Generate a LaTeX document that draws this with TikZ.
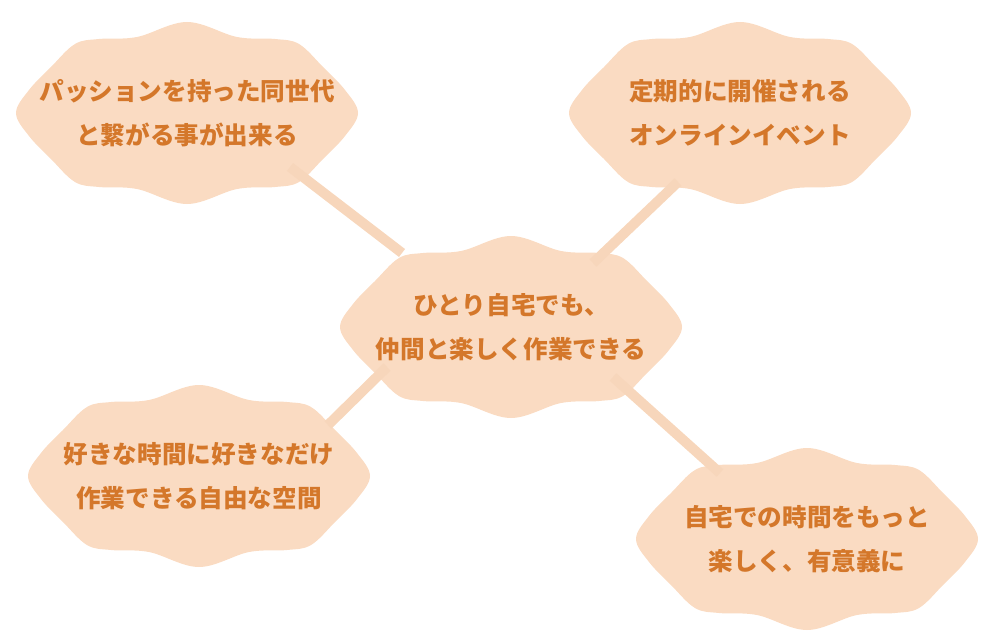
\documentclass[tikz,border=0pt]{standalone}
\usepackage{fontspec}
\setmainfont{Noto Sans CJK JP}
\usetikzlibrary{calc, backgrounds}

\definecolor{cloudfill}{HTML}{FADBC2}
\definecolor{linkcol}{HTML}{F7D6BB}
\definecolor{textcol}{HTML}{D4772A}

\begin{document}
\begin{tikzpicture}[x=0.5pt, y=0.5pt,
    bubble/.style={align=center, text=textcol, font=\fontsize{12.3}{21.75}\selectfont\bfseries},
    link/.style={line width=5pt, linkcol},
    cloud/.style={fill=cloudfill, yshift=1.5pt}]

        % page of the same size as the reference
        \useasboundingbox (0,0) rectangle (1000,639);

        % the texts, centre first
        \node[bubble] (hub) at (511,312) {ひとり自宅でも、\\仲間と楽しく作業できる};
        \node[bubble] (peers) at (187,526) {パッションを持った同世代\\と繋がる事が出来る};
        \node[bubble] (events) at (740,526) {定期的に開催される\\オンラインイベント};
        \node[bubble] (space) at (199,163) {好きな時間に好きなだけ\\作業できる自由な空間};
        \node[bubble] (home) at (807,100) {自宅での時間をもっと\\楽しく、有意義に};

        % wavy clouds behind every text
        \begin{scope}[on background layer]
        \foreach \n in {hub, peers, events, space, home}
                \fill[cloud, shift={(\n)}] plot[smooth cycle, tension=0.6] coordinates {
                        (171,0) (158,23) (136,46) (112,69) (88,74) (50,76) (0,91)
                        (-50,76) (-88,74) (-112,69) (-136,46) (-158,23)
                        (-171,0) (-158,-23) (-136,-46) (-112,-69) (-88,-74) (-50,-76) (0,-91)
                        (50,-76) (88,-74) (112,-69) (136,-46) (158,-23)};
        \end{scope}

        % links from the outer clouds to the centre
        \foreach \n/\dx/\dy/\hx/\hy in {peers/103/-54/-109/74, events/-62/-69/82/64,
                        space/129/51/-124/-40, home/-87/66/102/-50}
                \draw[link] ($(\n)+(\dx,\dy)$) -- ($(hub)+(\hx,\hy)$);

\end{tikzpicture}
\end{document}
